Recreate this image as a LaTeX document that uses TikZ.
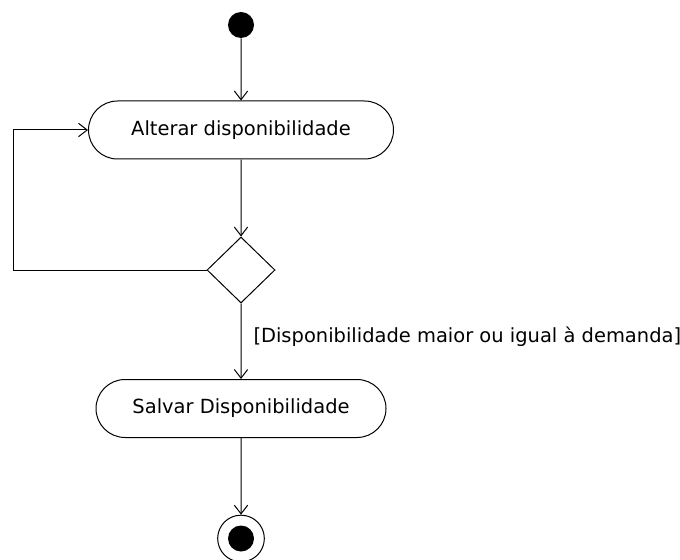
\documentclass[tikz,border=0pt]{standalone}
\usepackage{fontspec}
\setmainfont{DejaVu Sans}
\usetikzlibrary{arrows.meta,shapes.misc,shapes.geometric}

\begin{document}
\begin{tikzpicture}[
    x=0.75pt, y=-0.75pt,
    line width=0.75pt,
    -{Straight Barb[length=6.5pt,width=10pt]},
    every node/.style={font=\fontsize{14.6pt}{17pt}\selectfont, inner sep=0pt},
    action/.style={draw, rounded rectangle, minimum height=43.5pt},
    decision/.style={draw, diamond, minimum width=51pt, minimum height=49.5pt},
    initial/.style={circle, fill=black, minimum size=19.5pt}
]

\useasboundingbox (0,0) rectangle (680,559);

\def\cx{241}

% start / end
\node[initial] (start) at (\cx, 25) {};
\node[draw, circle, minimum size=35pt] (finish) at (\cx, 538.5) {};
\node[initial] (finishdot) at (\cx, 538.5) {};

% actions
\node[action, minimum width=228.75pt] (alter) at (\cx, 130) {Alterar disponibilidade};
\node[action, minimum width=217.5pt] (save) at (\cx, 408.5) {Salvar Disponibilidade};

% decision
\node[decision] (check) at (\cx, 270) {};
\coordinate (back) at (13, 270);

% guard
\node[anchor=west] (guard) at (253, 337) {[Disponibilidade maior ou igual à demanda]};

% flows
\draw (start) -- (alter);
\draw (alter) -- (check);
\draw[-] (check.west) -- (back);
\draw (back) |- (alter.west);
\draw (check) -- (save);
\draw (save) -- (finish);

\end{tikzpicture}
\end{document}
